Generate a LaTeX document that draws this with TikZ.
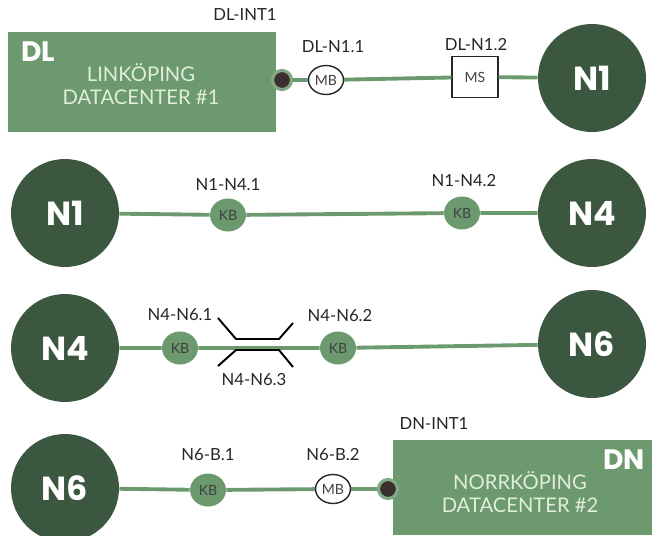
\documentclass[tikz,border=0pt]{standalone}
\usepackage{fontspec}
\setmainfont{Lato}
\newfontfamily\hubfont{Poppins}
\usepackage{tikz}
\usetikzlibrary{shapes.geometric, positioning}
\definecolor{hubgreen}{HTML}{3C573F}
\definecolor{midgreen}{HTML}{6C9A6E}
\definecolor{portbrown}{HTML}{3B2F2D}
\definecolor{dctext}{HTML}{E2EDDC}

\begin{document}
\begin{tikzpicture}[x=0.02cm,y=-0.02cm,
    hub/.style={circle,fill=hubgreen,minimum size=2.16cm,inner sep=0pt,text=white,font=\hubfont\bfseries\fontsize{19}{19}\selectfont},
    kb/.style={ellipse,fill=midgreen,minimum width=0.72cm,minimum height=0.66cm,inner sep=0pt,text=black!75,font=\fontsize{8}{8}\selectfont},
    mb/.style={ellipse,draw=black!85,line width=0.8pt,fill=white,minimum width=0.7cm,minimum height=0.58cm,inner sep=0pt,text=black!75,font=\fontsize{8}{8}\selectfont},
    ms/.style={rectangle,draw=black!85,line width=0.8pt,fill=white,minimum width=0.92cm,minimum height=0.82cm,inner sep=0pt,text=black!75,font=\fontsize{8}{8}\selectfont},
    dc/.style={rectangle,fill=midgreen,inner sep=0pt},
    dcname/.style={text=dctext,align=center,font=\fontsize{11.5}{13}\selectfont},
    dctag/.style={text=white,font=\hubfont\bfseries\fontsize{16}{16}\selectfont},
    port/.style={circle,fill=portbrown,draw=midgreen!85,line width=1.8pt,minimum size=0.38cm,inner sep=0pt},
    lbl/.style={text=black!85,font=\fontsize{9.5}{10}\selectfont},
    link/.style={draw=midgreen,line width=2.2pt}]
    \useasboundingbox(0,0) rectangle (652,535);
    % row 1: DL to N1
    \node[dc,minimum width=5.36cm,minimum height=2cm](dl) at (142,82){};
    \node[dcname](dlname) at (141,84){LINKÖPING\\DATACENTER \#1};
    \node[dctag,anchor=west](dltag) at (15,52){DL};
    \node[port](dlint) at (282,80){};
    \node[lbl](dlintl) at (245,15){DL-INT1};
    \node[mb](dln11) at (326,80){MB};
    \node[lbl](dln11l) at (333,47){DL-N1.1};
    \node[ms](dln12) at (475,77){MS};
    \node[lbl](dln12l) at (476,45){DL-N1.2};
    \node[hub](n1a) at (592,78){N1};
    \draw[link](dlint)--(dln11)--(dln12)--(n1a);
    % row 2: N1 to N4
    \node[hub](n1b) at (65,213){N1};
    \node[hub](n4a) at (592,213){N4};
    \node[kb](n1n41) at (228,215){KB};
    \node[lbl](n1n41l) at (228,185){N1-N4.1};
    \node[kb](n1n42) at (462,213){KB};
    \node[lbl](n1n42l) at (464,181){N1-N4.2};
    \draw[link](n1b)--(n1n41)--(n1n42)--(n4a);
    % row 3: N4 to N6
    \node[hub](n4b) at (65,348){N4};
    \node[hub](n6a) at (592,344){N6};
    \node[kb](n4n61) at (180,348){KB};
    \node[lbl](n4n61l) at (180,315){N4-N6.1};
    \node[kb](n4n62) at (338,348){KB};
    \node[lbl](n4n62l) at (340,316){N4-N6.2};
    \draw[link](n4b)--(n4n61)--(n4n62)--(n6a);
    \draw[line width=1.1pt](218,318)--(236,339)--(279,339)--(293,323);
    \draw[line width=1.1pt](218,366)--(236,350)--(279,350)--(293,367);
    \node[lbl](n4n63l) at (254,380){N4-N6.3};
    % row 4: N6 to DN
    \node[hub](n6b) at (65,488){N6};
    \node[dc,minimum width=5.18cm,minimum height=1.9cm](dn) at (522.5,487.5){};
    \node[dcname](dnname) at (520,492){NORRKÖPING\\DATACENTER \#2};
    \node[dctag,anchor=east](dntag) at (651,460){DN};
    \node[port](dnint) at (388,489){};
    \node[lbl](dnintl) at (434,423){DN-INT1};
    \node[kb](n6b1) at (208,490){KB};
    \node[lbl](n6b1l) at (208,455){N6-B.1};
    \node[mb](n6b2) at (333,489){MB};
    \node[lbl](n6b2l) at (333,455){N6-B.2};
    \draw[link](n6b)--(n6b1)--(n6b2)--(dnint);
\end{tikzpicture}
\end{document}
